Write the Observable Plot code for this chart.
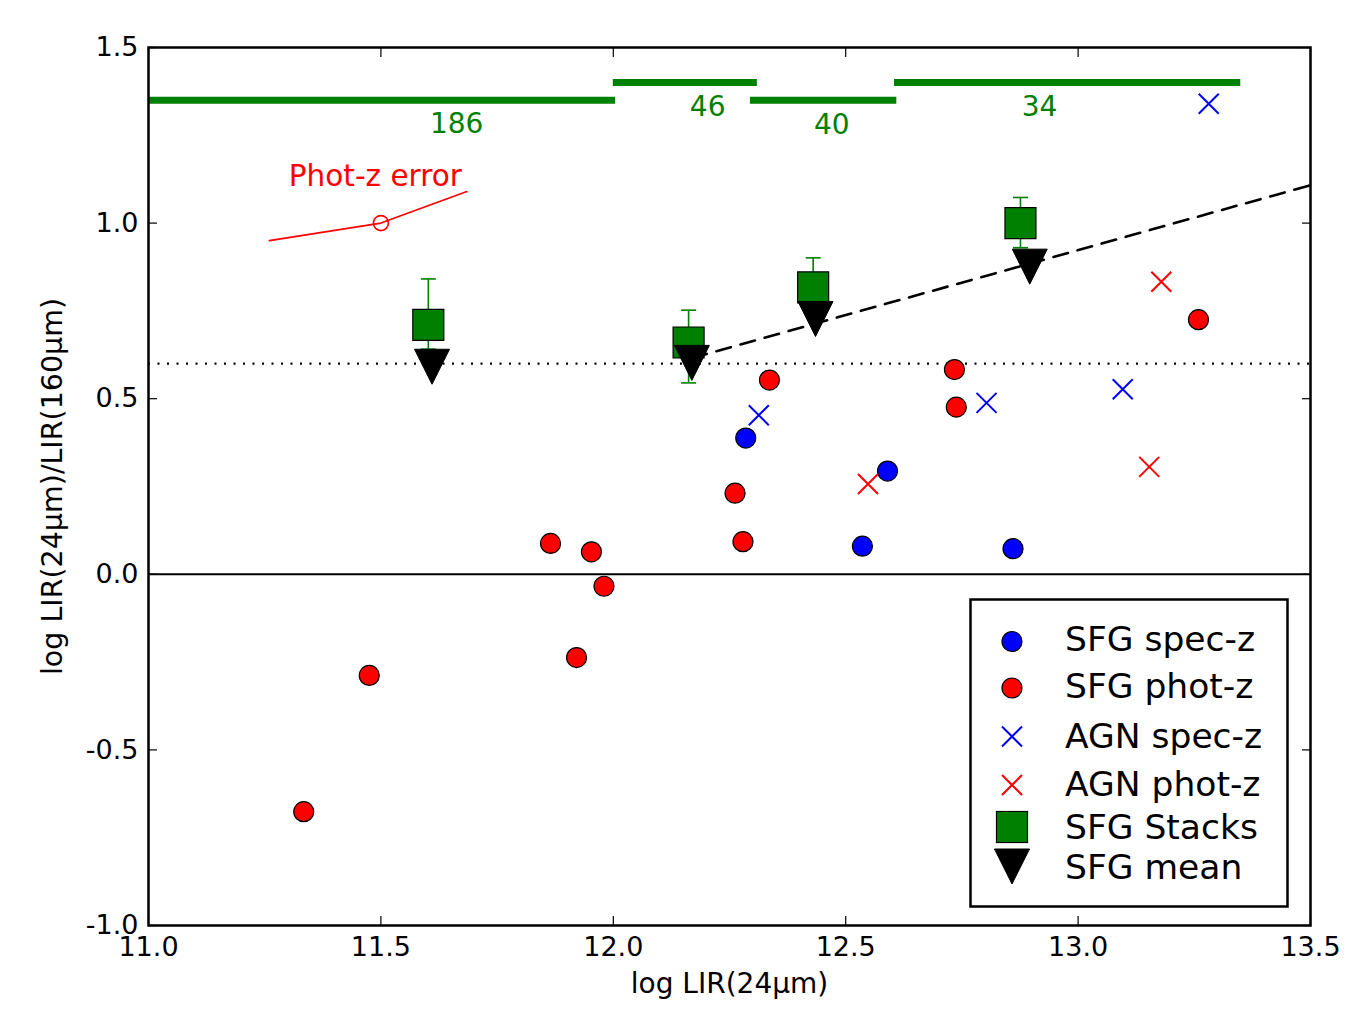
<!DOCTYPE html>
<html><head><meta charset="utf-8">
<script src="https://cdn.jsdelivr.net/npm/d3@7"></script>
<script src="https://cdn.jsdelivr.net/npm/@observablehq/plot@0.6"></script>
<style>
body{margin:0;background:#fff;font-family:"DejaVu Sans",sans-serif;}
#wrap{position:relative;width:1346px;height:1027px;}
#legend{position:absolute;left:970px;top:599px;}
</style></head><body><div id="wrap"></div>
<script>
// ---- tick labels ----
const xTicks = [11.0, 11.5, 12.0, 12.5, 13.0, 13.5];
const xTickLabels = ["11.0", "11.5", "12.0", "12.5", "13.0", "13.5"];
const yTicks = [-1.0, -0.5, 0.0, 0.5, 1.0, 1.5];
const yTickLabels = ["-1.0", "-0.5", "0.0", "0.5", "1.0", "1.5"];

// ---- series ----
const sfgSpecX = [12.285, 12.590, 12.536, 12.860];
const sfgSpecY = [0.388, 0.294, 0.080, 0.073];
const sfgPhotX = [11.334, 11.475, 11.865, 11.921, 11.953, 11.980, 12.262, 12.279, 12.336, 12.734, 12.738, 13.259];
const sfgPhotY = [-0.676, -0.288, 0.088, -0.237, 0.064, -0.034, 0.231, 0.093, 0.553, 0.583, 0.476, 0.725];
const agnSpecX = [12.313, 12.803, 13.096, 13.281];
const agnSpecY = [0.453, 0.488, 0.527, 1.340];
const agnPhotX = [12.548, 13.153, 13.179];
const agnPhotY = [0.257, 0.306, 0.833];
const stackX  = [11.602, 12.162, 12.430, 12.876];
const stackY  = [0.710, 0.660, 0.817, 1.000];
const stackLo = [0.641, 0.545, 0.740, 0.930];
const stackHi = [0.841, 0.752, 0.901, 1.073];
const meanX = [11.610, 12.169, 12.435, 12.896];
const meanY = [0.591, 0.602, 0.727, 0.876];
// bins along the top
const binStart = [11.0, 12.0, 12.295, 12.605];
const binEnd   = [12.005, 12.31, 12.61, 13.35];
const binLevel = [1.35, 1.40, 1.35, 1.40];
const binCount = ["186", "46", "40", "34"];
const binLabelX = [11.663, 12.203, 12.470, 12.917];
const binLabelY = [1.281, 1.330, 1.278, 1.330];
// fit line and reference lines
const fitX = [12.17, 13.5];
const fitY = [0.616, 1.108];
const refLevel = [0.6];
const zeroLevel = [0.0];
// phot-z error indicator
const photErrX = [11.26, 11.50, 11.685];
const photErrY = [0.95, 1.00, 1.09];
const photErrCenterX = [11.50];
const photErrCenterY = [1.00];
const photErrLabel = ["Phot-z error"];
const photErrLabelX = [11.488];
const photErrLabelY = [1.132];

const xLabel = "log LIR(24μm)";
const yLabel = "log LIR(24μm)/LIR(160μm)";

const legendItems = ["SFG spec-z", "SFG phot-z", "AGN spec-z", "AGN phot-z", "SFG Stacks", "SFG mean"];

// ---- build tables ----
const pts = (xs, ys) => xs.map((x, i) => ({x, y: ys[i]}));
const sfgSpec = pts(sfgSpecX, sfgSpecY);
const sfgPhot = pts(sfgPhotX, sfgPhotY);
const agnSpec = pts(agnSpecX, agnSpecY);
const agnPhot = pts(agnPhotX, agnPhotY);
const stacks = stackX.map((x, i) => ({x, y: stackY[i], lo: stackLo[i], hi: stackHi[i]}));
const means = pts(meanX, meanY);
const bins = binStart.map((s, i) => ({x1: s, x2: binEnd[i], y: binLevel[i]}));
const binLabels = binCount.map((t, i) => ({t, x: binLabelX[i], y: binLabelY[i]}));
const fit = pts(fitX, fitY);
const photErr = pts(photErrX, photErrY);
const photLabel = photErrLabel.map((t, i) => ({t, x: photErrLabelX[i], y: photErrLabelY[i]}));

// ---- custom symbols ----
const rad = size => Math.sqrt(size / Math.PI);
const triDown = {draw(c, s) { const r = rad(s); c.moveTo(-r, -r); c.lineTo(r, -r); c.lineTo(0, r); c.closePath(); }};
const sq = {draw(c, s) { const r = rad(s); c.moveTo(-r, -r); c.lineTo(r, -r); c.lineTo(r, r); c.lineTo(-r, r); c.closePath(); }};
const cross = {draw(c, s) { const r = rad(s); c.moveTo(-r, -r); c.lineTo(r, r); c.moveTo(-r, r); c.lineTo(r, -r); }};
const cap = {draw(c, s) { const r = rad(s); c.moveTo(-r, 0); c.lineTo(r, 0); }};

const GREEN = "#008000", RED = "#ff0000", BLUE = "#0000ff";
const FONT = "DejaVu Sans, sans-serif";

const chart = Plot.plot({
  width: 1346,
  height: 1027,
  marginLeft: 148,
  marginRight: 36,
  marginTop: 47,
  marginBottom: 102,
  style: {fontFamily: FONT, fontSize: "27px", background: "white", color: "black"},
  x: {domain: [11, 13.5]},
  y: {domain: [-1, 1.5]},
  marks: [
    Plot.ruleY(refLevel, {stroke: "black", strokeWidth: 2.2, strokeDasharray: "2,7.5"}),
    Plot.ruleY(zeroLevel, {stroke: "black", strokeWidth: 2}),
    Plot.line(fit, {x: "x", y: "y", stroke: "black", strokeWidth: 2.6, strokeDasharray: "15,10"}),
    Plot.ruleY(bins, {x1: "x1", x2: "x2", y: "y", stroke: GREEN, strokeWidth: 7}),
    Plot.text(binLabels, {x: "x", y: "y", text: "t", fill: GREEN, fontSize: 28, textAnchor: "middle", lineAnchor: "middle"}),
    Plot.line(photErr, {x: "x", y: "y", stroke: RED, strokeWidth: 1.6}),
    Plot.dot(pts(photErrCenterX, photErrCenterY), {x: "x", y: "y", r: 7.5, stroke: RED, fill: "none", strokeWidth: 1.6}),
    Plot.text(photLabel, {x: "x", y: "y", text: "t", fill: RED, fontSize: 29.5, textAnchor: "middle", lineAnchor: "middle"}),
    Plot.dot(sfgPhot, {x: "x", y: "y", r: 10, fill: RED, stroke: "black", strokeWidth: 1.2}),
    Plot.dot(sfgSpec, {x: "x", y: "y", r: 10, fill: BLUE, stroke: "black", strokeWidth: 1.2}),
    Plot.dot(agnSpec, {x: "x", y: "y", r: 10, symbol: cross, fill: "none", stroke: BLUE, strokeWidth: 2}),
    Plot.dot(agnPhot, {x: "x", y: "y", r: 10, symbol: cross, fill: "none", stroke: RED, strokeWidth: 2}),
    Plot.ruleX(stacks, {x: "x", y1: "lo", y2: "hi", stroke: GREEN, strokeWidth: 1.6}),
    Plot.dot(stacks, {x: "x", y: "hi", r: 7.5, symbol: cap, fill: "none", stroke: GREEN, strokeWidth: 1.6}),
    Plot.dot(stacks, {x: "x", y: "lo", r: 7.5, symbol: cap, fill: "none", stroke: GREEN, strokeWidth: 1.6}),
    Plot.dot(stacks, {x: "x", y: "y", r: 15.5, symbol: sq, fill: GREEN, stroke: "black", strokeWidth: 1.2}),
    Plot.dot(means, {x: "x", y: "y", r: 17.5, symbol: triDown, fill: "black", stroke: "black", strokeWidth: 1}),
    // axes with inward ticks
    Plot.axisX(xTicks, {anchor: "bottom", tickSize: -9, tickPadding: 20, tickFormat: (d) => xTickLabels[xTicks.indexOf(d)], label: null, fontSize: 27, strokeWidth: 1.2}),
    Plot.axisX(xTicks, {anchor: "top", tickSize: -9, tickFormat: () => "", label: null, strokeWidth: 1.2}),
    Plot.axisY(yTicks, {anchor: "left", tickSize: -9, tickPadding: 19, tickFormat: (d) => yTickLabels[yTicks.indexOf(d)], label: null, fontSize: 27, strokeWidth: 1.2}),
    Plot.axisY(yTicks, {anchor: "right", tickSize: -9, tickFormat: () => "", label: null, strokeWidth: 1.2}),
    Plot.text([xLabel], {frameAnchor: "bottom", dy: 59, text: d => d, fontSize: 28, lineAnchor: "middle", textAnchor: "middle"}),
    Plot.text([yLabel], {frameAnchor: "left", dx: -96, rotate: -90, text: d => d, fontSize: 28.5, lineAnchor: "middle", textAnchor: "middle"}),
    Plot.frame({stroke: "black", strokeWidth: 2.5})
  ]
});
document.getElementById("wrap").appendChild(chart);

// ---- legend (inside the axes, lower-right corner) ----
const ns = "http://www.w3.org/2000/svg";
const lg = document.createElementNS(ns, "svg");
lg.setAttribute("id", "legend");
lg.setAttribute("width", 320);
lg.setAttribute("height", 310);
lg.style.position = "absolute";
lg.style.left = "969px";
lg.style.top = "598px";
const mk = (tag, attrs) => { const e = document.createElementNS(ns, tag); for (const k in attrs) e.setAttribute(k, attrs[k]); lg.appendChild(e); return e; };
mk("rect", {x: 1.5, y: 1.5, width: 317, height: 307, fill: "white", stroke: "black", "stroke-width": 2.5});
const symY = [43.5, 90, 138.5, 187, 229, 268.5];
const txtY = [41, 88, 138, 185.5, 228.5, 268.5];
const sx = 43;
mk("circle", {cx: sx, cy: symY[0], r: 10, fill: BLUE, stroke: "black", "stroke-width": 1.2});
mk("circle", {cx: sx, cy: symY[1], r: 10, fill: RED, stroke: "black", "stroke-width": 1.2});
mk("path", {d: `M${sx-10},${symY[2]-10}L${sx+10},${symY[2]+10}M${sx-10},${symY[2]+10}L${sx+10},${symY[2]-10}`, stroke: BLUE, "stroke-width": 2, fill: "none"});
mk("path", {d: `M${sx-10},${symY[3]-10}L${sx+10},${symY[3]+10}M${sx-10},${symY[3]+10}L${sx+10},${symY[3]-10}`, stroke: RED, "stroke-width": 2, fill: "none"});
mk("rect", {x: sx-15.5, y: symY[4]-15.5, width: 31, height: 31, fill: GREEN, stroke: "black", "stroke-width": 1.2});
mk("path", {d: `M${sx-17.5},${symY[5]-17.5}L${sx+17.5},${symY[5]-17.5}L${sx},${symY[5]+17.5}Z`, fill: "black", stroke: "black"});
legendItems.forEach((t, i) => {
  const e = mk("text", {x: 96, y: txtY[i], "dominant-baseline": "central", "font-size": 34.5, "font-family": FONT, fill: "black"});
  e.textContent = t;
});
document.getElementById("wrap").appendChild(lg);
</script>
</body></html>
